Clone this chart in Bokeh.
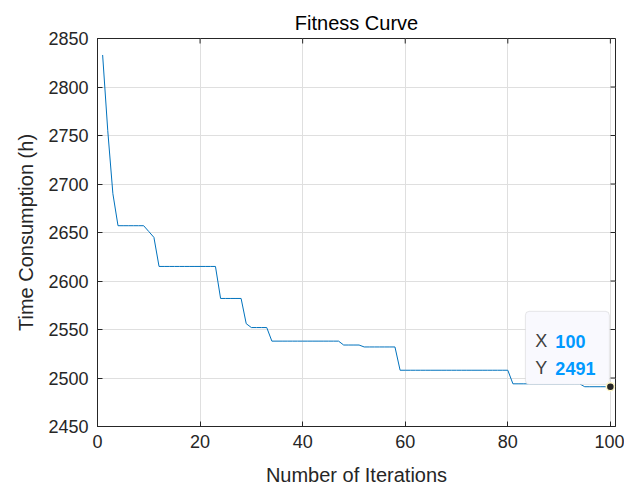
import math
from bokeh.plotting import figure
from bokeh.models import Range1d, FixedTicker, BoxAnnotation, Label
from bokeh.embed import file_html
from bokeh.resources import INLINE

# ---- data ----
iterations = list(range(1, 101))
time_consumption = [
    2833, 2755, 2690, 2657, 2657, 2657, 2657, 2657, 2657, 2651,
    2645, 2615, 2615, 2615, 2615, 2615, 2615, 2615, 2615, 2615,
    2615, 2615, 2615, 2582, 2582, 2582, 2582, 2582, 2556, 2552,
    2552, 2552, 2552, 2538, 2538, 2538, 2538, 2538, 2538, 2538,
    2538, 2538, 2538, 2538, 2538, 2538, 2538, 2534, 2534, 2534,
    2534, 2532, 2532, 2532, 2532, 2532, 2532, 2532, 2508, 2508,
    2508, 2508, 2508, 2508, 2508, 2508, 2508, 2508, 2508, 2508,
    2508, 2508, 2508, 2508, 2508, 2508, 2508, 2508, 2508, 2508,
    2494, 2494, 2494, 2494, 2494, 2494, 2494, 2494, 2494, 2494,
    2494, 2494, 2494, 2494, 2491, 2491, 2491, 2491, 2491, 2491,
]
x_ticks = [0, 20, 40, 60, 80, 100]
y_ticks = [2450, 2500, 2550, 2600, 2650, 2700, 2750, 2800, 2850]
x_label = "Number of Iterations"
y_label = "Time Consumption (h)"
tip_x = iterations[-1]
tip_y = time_consumption[-1]

FONT = "Liberation Sans"
AX = "#262626"

X0, X1 = 0, 101
Y0, Y1 = 2450, 2850

p = figure(width=624, height=488, output_backend="svg", toolbar_location=None,
           x_range=Range1d(X0, X1), y_range=Range1d(Y0, Y1),
           min_border_left=97, min_border_right=9,
           min_border_top=38, min_border_bottom=61,
           title="Fitness Curve", background_fill_color="white",
           border_fill_color="white")
p.outline_line_color = AX
p.outline_line_width = 1
p.outline_line_alpha = 1

p.title.text_font = FONT
p.title.text_font_size = "20px"
p.title.text_font_style = "normal"
p.title.text_color = "#000000"
p.title.align = "center"
p.title.standoff = 10

for ax in (p.xaxis[0], p.yaxis[0]):
    ax.axis_line_color = AX
    ax.axis_line_width = 1
    ax.major_tick_line_color = AX
    ax.major_tick_in = 5
    ax.major_tick_out = 0
    ax.minor_tick_line_color = None
    ax.major_label_text_font = FONT
    ax.major_label_text_font_size = "18px"
    ax.major_label_text_color = AX
    ax.axis_label_text_font = FONT
    ax.axis_label_text_font_size = "20px"
    ax.axis_label_text_font_style = "normal"
    ax.axis_label_text_color = AX

p.xaxis.ticker = FixedTicker(ticks=x_ticks)
p.yaxis.ticker = FixedTicker(ticks=y_ticks)
p.xaxis.axis_label = x_label
p.yaxis.axis_label = y_label
p.xaxis.major_label_standoff = 8
p.yaxis.major_label_standoff = 9
p.xaxis.axis_label_standoff = 13
p.yaxis.axis_label_standoff = 8

p.xgrid.ticker = FixedTicker(ticks=x_ticks)
p.ygrid.ticker = FixedTicker(ticks=y_ticks)
for g in (p.xgrid[0], p.ygrid[0]):
    g.grid_line_color = "#dfdfdf"
    g.grid_line_width = 1

# inward tick marks on the top and right box edges (clipped to the frame)
p.scatter(x_ticks, [Y1] * len(x_ticks), marker="dash", angle=math.pi / 2,
          size=10, line_color=AX, line_width=1)
p.scatter([X1] * len(y_ticks), y_ticks, marker="dash",
          size=10, line_color=AX, line_width=1)

p.line(iterations, time_consumption, line_color="#0072BD", line_width=1)

# ---- data tip ----
px_x = 518 / (X1 - X0)   # pixels per x unit (approx. frame width)
px_y = 389 / (Y1 - Y0)   # pixels per y unit (approx. frame height)
box = BoxAnnotation(left=tip_x - 85 / px_x, right=tip_x - 1 / px_x,
                    bottom=tip_y + 2.3 / px_y, top=tip_y + 75.6 / px_y,
                    fill_color="#f9f9fe", fill_alpha=1,
                    line_color="#b4b4b4", line_width=1, border_radius=4)
p.add_layout(box)

def tip_text(txt, dx, dy, color, bold):
    p.add_layout(Label(x=tip_x, y=tip_y, x_offset=dx, y_offset=dy, text=txt,
                       text_font=FONT, text_font_size="18px",
                       text_font_style="bold" if bold else "normal",
                       text_color=color, text_baseline="alphabetic",
                       text_align="left"))

tip_text("X", -75, 45.6, "#404040", False)
tip_text(str(tip_x), -55, 45.6, "#0099FF", True)
tip_text("Y", -75, 18.3, "#404040", False)
tip_text(str(tip_y), -55, 18.3, "#0099FF", True)

mk = p.scatter([tip_x], [tip_y], size=8, fill_color="#262626",
               line_color="#fff7c8", line_width=1.5)
mk.level = "overlay"

open("out.html", "w").write(file_html(p, INLINE))
